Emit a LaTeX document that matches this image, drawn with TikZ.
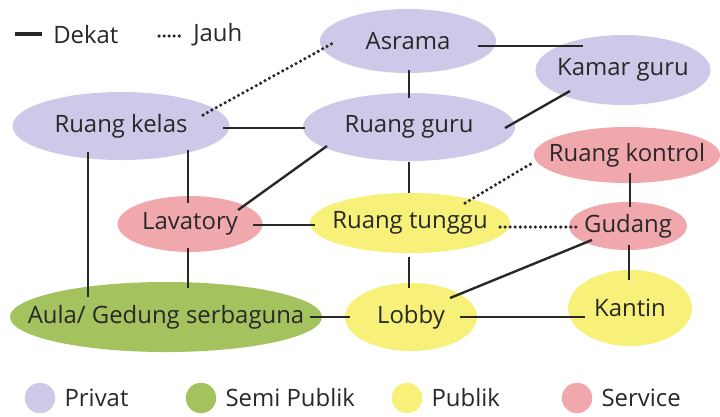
\documentclass[tikz,border=0pt]{standalone}
\usepackage{fontspec}
\setmainfont{Open Sans}
\usetikzlibrary{shapes.geometric,positioning,calc}
\definecolor{privatC}{RGB}{204,202,232}
\definecolor{semiC}{RGB}{164,194,94}
\definecolor{publikC}{RGB}{247,241,122}
\definecolor{serviceC}{RGB}{240,168,173}
\definecolor{teksC}{RGB}{40,40,40}
\tikzset{
  ruang/.style={ellipse, fill=#1, inner sep=0pt},
  tanda/.style={circle, fill=#1, minimum size=0.76cm, inner sep=0pt},
  dekat/.style={line width=1.7pt, draw=teksC},
  jauh/.style={line width=2.5pt, draw=teksC, dash pattern=on 0pt off 3.6pt, line cap=round},
  ket/.style={inner sep=0pt, text=teksC},
}

\begin{document}
\begin{tikzpicture}[x=0.025cm, y=-0.025cm, font=\fontsize{17}{20}\selectfont,
    every label/.style={text=teksC}, node distance=0.22cm]
        \useasboundingbox (0,0) rectangle (720,416);
        % ruang
        \node[ruang=privatC, minimum width=4.4cm, minimum height=1.6cm, label=center:Asrama] (asrama) at (408,41) {};
        \node[ruang=privatC, minimum width=4.375cm, minimum height=1.75cm, label=center:Kamar guru] (kamar) at (623,70) {};
        \node[ruang=privatC, minimum width=5.425cm, minimum height=1.7cm, label=center:Ruang kelas] (kelas) at (121,126) {};
        \node[ruang=privatC, minimum width=5.3cm, minimum height=1.7cm, label=center:Ruang guru] (guru) at (409,127) {};
        \node[ruang=serviceC, minimum width=4.65cm, minimum height=1.4cm, label=center:Ruang kontrol] (kontrol) at (627,155) {};
        \node[ruang=serviceC, minimum width=3.625cm, minimum height=1.4cm, label=center:Lavatory] (lavatory) at (190,224) {};
        \node[ruang=publikC, minimum width=5cm, minimum height=1.5cm, label=center:Ruang tunggu] (tunggu) at (410,223) {};
        \node[ruang=serviceC, minimum width=2.95cm, minimum height=1.2cm, label=center:Gudang] (gudang) at (628,226) {};
        \node[ruang=semiC, minimum width=7.8cm, minimum height=1.75cm, label=center:Aula/ Gedung serbaguna] (aula) at (166,317) {};
        \node[ruang=publikC, minimum width=3.3cm, minimum height=1.7cm, label=center:Lobby] (lobby) at (411,317) {};
        \node[ruang=publikC, minimum width=3.1cm, minimum height=1.9cm, label=center:Kantin] (kantin) at (630,308) {};

        % hubungan dekat
        \draw[dekat] ($(asrama)+(70,5)$) -- ($(kamar)+(-40,-24)$);
        \draw[dekat] ($(asrama)+(1,29)$) -- ($(guru)+(0,-29)$);
        \draw[dekat] ($(kamar)+(-53,21)$) -- ($(guru)+(96,1)$);
        \draw[dekat] ($(kelas)+(102,2)$) -- ($(guru)+(-104,1)$);
        \draw[dekat] ($(kelas)+(-33,26)$) -- ($(aula)+(-78,-20)$);
        \draw[dekat] ($(kelas)+(67,24)$) -- ($(lavatory)+(-2,-21)$);
        \draw[dekat] ($(lavatory)+(-2,24)$) -- ($(aula)+(22,-29)$);
        \draw[dekat] ($(guru)+(-82,19)$) -- ($(lavatory)+(48,-14)$);
        \draw[dekat] ($(lavatory)+(63,1)$) -- ($(tunggu)+(-95,2)$);
        \draw[dekat] ($(guru)+(0,35)$) -- ($(tunggu)+(-1,-30)$);
        \draw[dekat] ($(kontrol)+(3,18)$) -- ($(gudang)+(2,-19)$);
        \draw[dekat] ($(tunggu)+(-1,34)$) -- ($(lobby)+(-2,-29)$);
        \draw[dekat] ($(gudang)+(-36,14)$) -- ($(lobby)+(39,-19)$);
        \draw[dekat] ($(gudang)+(1,19)$) -- ($(kantin)+(-1,-28)$);
        \draw[dekat] ($(aula)+(144,0)$) -- ($(lobby)+(-61,0)$);
        \draw[dekat] ($(lobby)+(49,0)$) -- ($(kantin)+(-45,9)$);
        % hubungan jauh
        \draw[jauh] ($(kelas)+(82,-11)$) -- ($(asrama)+(-73,1)$);
        \draw[jauh] ($(tunggu)+(55,-20)$) -- ($(kontrol)+(-93,7)$);
        \draw[jauh] ($(tunggu)+(90,4)$) -- ($(gudang)+(-51,1)$);

        % keterangan garis
        \coordinate (dkA) at (15,34);
        \coordinate (dkB) at (42,34);
        \draw[dekat, line width=2.2pt] (dkA) -- (dkB);
        \node[ket, anchor=west] (dekatT) at (53,35) {Dekat};
        \coordinate (jhA) at (159,36);
        \coordinate (jhB) at (183,36);
        \draw[jauh] (jhA) -- (jhB);
        \node[ket, anchor=west] (jauhT) at (193,35) {Jauh};

        % keterangan zona
        \node[tanda=privatC] (tPrivat) at (40,398) {};
        \node[ket, right=of tPrivat] {Privat};
        \node[tanda=semiC] (tSemi) at (201,398) {};
        \node[ket, right=of tSemi] {Semi Publik};
        \node[tanda=publikC] (tPublik) at (407,398) {};
        \node[ket, right=of tPublik] {Publik};
        \node[tanda=serviceC] (tService) at (577,398) {};
        \node[ket, right=of tService] {Service};
      \end{tikzpicture}
\end{document}
